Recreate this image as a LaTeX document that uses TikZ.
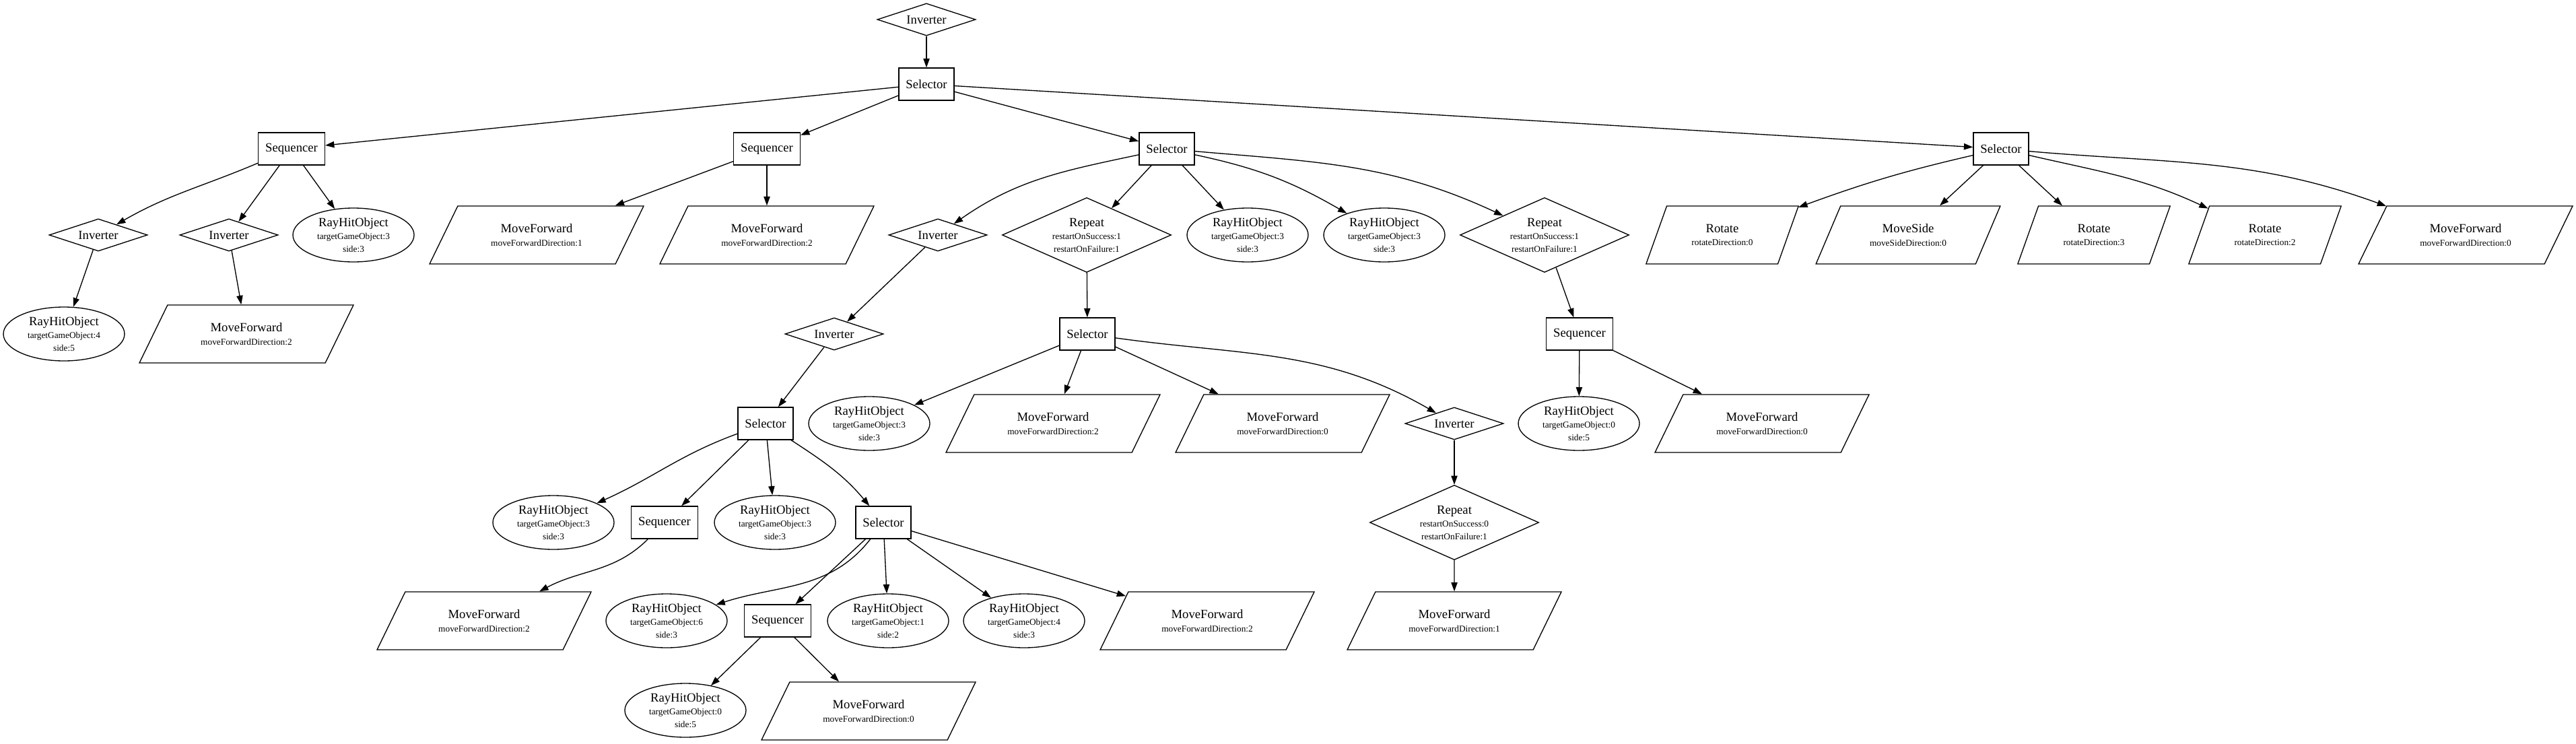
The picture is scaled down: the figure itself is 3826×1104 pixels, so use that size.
\documentclass[tikz,border=0pt]{standalone}
\usepackage{fontspec}
\setmainfont{Liberation Serif}
\usetikzlibrary{shapes.geometric, arrows.meta}
\newcommand\mainsz{\fontsize{14}{14}\selectfont}
\newcommand\subsz{\fontsize{10}{10}\selectfont}
\newcommand\rhotext[2]{RayHitObject\\[0.5pt]\subsz targetGameObject:#1\\\subsz side:#2}
\newcommand\mftext[1]{MoveForward\\[0.5pt]\subsz moveForwardDirection:#1}
\newcommand\reptext[2]{Repeat\\[0.5pt]\subsz restartOnSuccess:#1\\\subsz restartOnFailure:#2}
\begin{document}
\begin{tikzpicture}[x=0.75pt, y=0.75pt,
  nd/.style={draw, line width=1pt, inner sep=0pt, font=\mainsz, align=center},
  boxn/.style={nd, rectangle, minimum height=36pt, inner xsep=7.9pt},
  invn/.style={nd, diamond, aspect=3, minimum width=109.5pt, minimum height=36pt},
  repn/.style={nd, diamond, aspect=2.26, minimum width=188.25pt, minimum height=83.25pt},
  rhon/.style={nd, ellipse, minimum width=135pt, minimum height=60pt},
  para/.style={nd, trapezium, trapezium stretches=true, minimum height=64.5pt},
  mfn/.style={para, trapezium left angle=53.3, trapezium right angle=126.7, minimum width=238.5pt},
  rotn/.style={para, trapezium left angle=61.9, trapezium right angle=118.1, minimum width=171pt},
  msn/.style={para, trapezium left angle=57.4, trapezium right angle=122.6, minimum width=205.5pt},
  link/.style={draw, line width=1pt, -{Triangle[length=10pt, width=7pt]}}
]
\useasboundingbox (0,0) rectangle (3826,-1104);

% rank 0-2
\node[invn] (inv0) at (1376,-29) {Inverter};
\node[boxn] (sel0) at (1376,-125) {Selector};
\node[boxn] (seq1) at (433,-221) {Sequencer};
\node[boxn] (seq2) at (1139,-221) {Sequencer};
\node[boxn] (sel2) at (1733,-221) {Selector};
\node[boxn] (sel4) at (2972,-221) {Selector};
% rank 3
\node[invn] (inva) at (146,-349) {Inverter};
\node[invn] (invb) at (340,-349) {Inverter};
\node[rhon] (r1) at (525,-349) {\rhotext{3}{3}};
\node[mfn] (mf1) at (797,-349) {\mftext{1}};
\node[mfn] (mf2) at (1139,-349) {\mftext{2}};
\node[invn] (invc) at (1393,-349) {Inverter};
\node[repn] (rep1) at (1614,-349) {\reptext{1}{1}};
\node[rhon] (r2) at (1853,-349) {\rhotext{3}{3}};
\node[rhon] (r3) at (2056,-349) {\rhotext{3}{3}};
\node[repn] (rep2) at (2294,-349) {\reptext{1}{1}};
\node[rotn] (ro0) at (2558,-349) {Rotate\\[0.5pt]\subsz rotateDirection:0};
\node[msn] (ms) at (2834,-349) {MoveSide\\[0.5pt]\subsz moveSideDirection:0};
\node[rotn] (ro3) at (3110,-349) {Rotate\\[0.5pt]\subsz rotateDirection:3};
\node[rotn] (ro2) at (3364,-349) {Rotate\\[0.5pt]\subsz rotateDirection:2};
\node[mfn] (mf3) at (3662,-349) {\mftext{0}};
% rank 4
\node[rhon] (r4) at (95,-496) {\rhotext{4}{5}};
\node[mfn] (mf4) at (366,-496) {\mftext{2}};
\node[invn] (invd) at (1239,-496) {Inverter};
\node[boxn] (sel3) at (1615,-496) {Selector};
\node[boxn] (seq3) at (2346,-496) {Sequencer};
% rank 5
\node[boxn] (sela) at (1137,-629) {Selector};
\node[rhon] (r5) at (1291,-629) {\rhotext{3}{3}};
\node[mfn] (mf5) at (1564,-629) {\mftext{2}};
\node[mfn] (mf6) at (1905,-629) {\mftext{0}};
\node[invn] (inve) at (2160,-629) {Inverter};
\node[rhon] (r6) at (2345,-629) {\rhotext{0}{5}};
\node[mfn] (mf7) at (2617,-629) {\mftext{0}};
% rank 6
\node[rhon] (r7) at (822,-776) {\rhotext{3}{3}};
\node[boxn] (seq4) at (987,-776) {Sequencer};
\node[rhon] (r8) at (1151,-776) {\rhotext{3}{3}};
\node[boxn] (sel5) at (1312,-776) {Selector};
\node[repn] (rep3) at (2160,-776) {\reptext{0}{1}};
% rank 7
\node[mfn] (mf8) at (719,-922) {\mftext{2}};
\node[rhon] (r9) at (990,-922) {\rhotext{6}{3}};
\node[boxn] (seq5) at (1155,-922) {Sequencer};
\node[rhon] (r10) at (1319,-922) {\rhotext{1}{2}};
\node[rhon] (r11) at (1521,-922) {\rhotext{4}{3}};
\node[mfn] (mf9) at (1793,-922) {\mftext{2}};
\node[mfn] (mf10) at (2160,-922) {\mftext{1}};
% rank 8
\node[rhon] (r12) at (1018,-1055) {\rhotext{0}{5}};
\node[mfn] (mf11) at (1290,-1056) {\mftext{0}};

% edges
\draw[link] (inv0) -- (sel0);
\draw[link] (sel0) -- (seq1);
\draw[link] (sel0) -- (seq2);
\draw[link] (sel0) -- (sel2);
\draw[link] (sel0) -- (sel4);

\draw[link] (seq1) to[out=203, in=30] (inva);
\draw[link] (seq1) -- (invb);
\draw[link] (seq1) -- (r1);
\draw[link] (inva) -- (r4);
\draw[link] (invb) -- (mf4);

\draw[link] (seq2) -- (mf1);
\draw[link] (seq2) -- (mf2);

\draw[link] (sel2) to[out=192, in=35] (invc);
\draw[link] (sel2) -- (rep1);
\draw[link] (sel2) -- (r2);
\draw[link] (sel2) to[out=-12, in=150] (r3);
\draw[link] (sel2) to[out=-5, in=155] (rep2);

\draw[link] (invc) -- (invd);
\draw[link] (invd) -- (sela);
\draw[link] (rep1) -- (sel3);

\draw[link] (sel3) -- (r5);
\draw[link] (sel3) -- (mf5);
\draw[link] (sel3) -- (mf6);
\draw[link] (sel3) to[out=-8, in=150] (inve);
\draw[link] (inve) -- (rep3);
\draw[link] (rep3) -- (mf10);

\draw[link] (rep2) -- (seq3);
\draw[link] (seq3) -- (r6);
\draw[link] (seq3) -- (mf7);

\draw[link] (sel4) to[out=193, in=20] (ro0);
\draw[link] (sel4) -- (ms);
\draw[link] (sel4) -- (ro3);
\draw[link] (sel4) to[out=-13, in=155] (ro2);
\draw[link] (sel4) to[out=-5, in=160] (mf3);

\draw[link] (sela) to[out=200, in=24] (r7);
\draw[link] (sela) -- (seq4);
\draw[link] (sela) -- (r8);
\draw[link] (sela) to[out=-33, in=130] (sel5);
\draw[link] (seq4) to[out=225, in=28] (mf8);

\draw[link] (sel5) to[out=232, in=18] (r9);
\draw[link] (sel5) -- (seq5);
\draw[link] (sel5) -- (r10);
\draw[link] (sel5) -- (r11);
\draw[link] (sel5) -- (mf9);

\draw[link] (seq5) -- (r12);
\draw[link] (seq5) -- (mf11);
\end{tikzpicture}
\end{document}
